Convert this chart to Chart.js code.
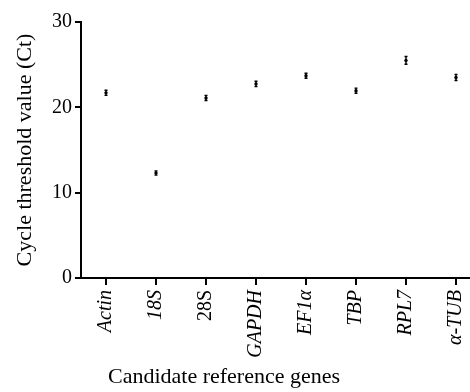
<!DOCTYPE html>
<html><head><meta charset="utf-8">
<script src="https://cdn.jsdelivr.net/npm/chart.js@4/dist/chart.umd.min.js"></script>
<style>html,body{margin:0;padding:0;overflow:hidden;background:#fff}#wrap{width:490px;height:392px}</style>
</head><body><div id="wrap"><canvas id="c" width="490" height="392"></canvas></div>
<script>
const categories = ["Actin", "18S", "28S", "GAPDH", "EF1\u03b1", "TBP", "RPL7", "\u03b1-TUB"];
const ctMeans = [21.7, 12.3, 21.1, 22.75, 23.7, 21.95, 25.5, 23.5];
const ctErrors = [0.3, 0.25, 0.3, 0.3, 0.3, 0.3, 0.45, 0.35];
const yTicks = [0, 10, 20, 30];
const xTitle = 'Candidate reference genes';
const yTitle = 'Cycle threshold value (Ct)';
const FONT = "'Liberation Serif', 'Times New Roman', serif";

const errorBars = {
  id: 'errorBars',
  afterDatasetsDraw(chart) {
    const {ctx, scales: {x, y}} = chart;
    ctx.save();
    ctx.strokeStyle = '#000';
    ctx.lineWidth = 1.4;
    ctMeans.forEach((m, i) => {
      const px = x.getPixelForValue(i);
      const top = y.getPixelForValue(m + ctErrors[i]);
      const bot = y.getPixelForValue(m - ctErrors[i]);
      ctx.beginPath();
      ctx.moveTo(px, top); ctx.lineTo(px, bot);
      ctx.moveTo(px - 1.5, top); ctx.lineTo(px + 1.5, top);
      ctx.moveTo(px - 1.5, bot); ctx.lineTo(px + 1.5, bot);
      ctx.stroke();
    });
    ctx.restore();
  }
};

const xTitlePlugin = {
  id: 'xTitlePlugin',
  afterDraw(chart) {
    const {ctx} = chart;
    ctx.save();
    ctx.fillStyle = '#000';
    ctx.font = "22px " + FONT;
    ctx.textAlign = 'center';
    ctx.textBaseline = 'middle';
    ctx.fillText(xTitle, 224, 377);
    ctx.restore();
  }
};

new Chart(document.getElementById('c'), {
  type: 'line',
  data: {
    labels: categories,
    datasets: [{
      data: ctMeans,
      showLine: false,
      pointRadius: 1.7,
      pointBackgroundColor: '#000',
      pointBorderColor: '#000',
      pointBorderWidth: 0
    }]
  },
  options: {
    responsive: false,
    animation: false,
    layout: { padding: { top: 22, right: 9, bottom: 0, left: 0 } },
    plugins: { legend: { display: false }, tooltip: { enabled: false } },
    scales: {
      x: {
        type: 'category',
        offset: true,
        afterFit(s) { s.height = 114; },
        border: { display: true, color: '#000', width: 2 },
        grid: { display: true, drawOnChartArea: false, drawTicks: true, tickLength: 7, color: '#000', lineWidth: 2, offset: false },
        ticks: {
          color: '#000', maxRotation: 90, minRotation: 90, padding: 5,
          font: (ctx) => ({ family: FONT, size: 20, style: (ctx.index === 2 ? 'normal' : 'italic') })
        },
        title: { display: false }
      },
      y: {
        min: 0, max: 30,
        afterFit(s) { s.width = 81; },
        afterBuildTicks(s) { s.ticks = yTicks.map(v => ({ value: v })); },
        border: { display: true, color: '#000', width: 2 },
        grid: { display: true, drawOnChartArea: false, drawTicks: true, tickLength: 6, color: '#000', lineWidth: 2 },
        ticks: { color: '#000', padding: 3, font: { family: FONT, size: 20 } },
        title: { display: true, text: yTitle, color: '#000', font: { family: FONT, size: 22 }, padding: { top: 12, bottom: 0 } }
      }
    }
  },
  plugins: [errorBars, xTitlePlugin]
});
</script></body></html>
